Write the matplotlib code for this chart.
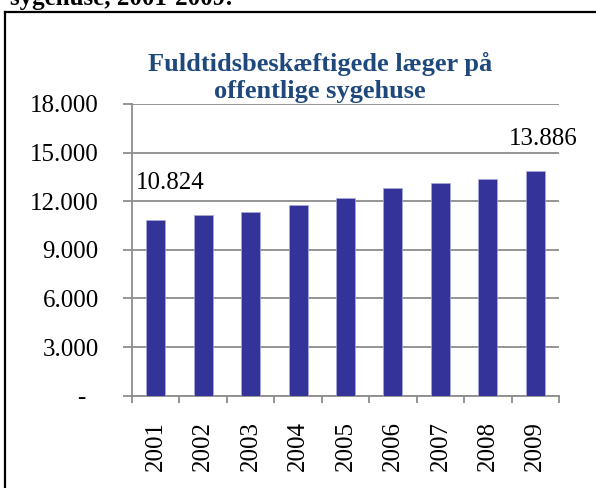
import matplotlib
matplotlib.use("Agg")
import matplotlib.pyplot as plt
from matplotlib.lines import Line2D
import numpy as np

years = ["2001", "2002", "2003", "2004", "2005", "2006", "2007", "2008", "2009"]
values = [10824, 11150, 11320, 11770, 12200, 12790, 13120, 13390, 13886]
yticks = [0, 3000, 6000, 9000, 12000, 15000, 18000]
ytick_labels = ["-  ", "3.000", "6.000", "9.000", "12.000", "15.000", "18.000"]
title = "Fuldtidsbeskæftigede læger på\noffentlige sygehuse"
heading = "sygehuse, 2001-2009:"

serif = ["Liberation Serif", "DejaVu Serif"]
plt.rcParams["font.family"] = serif

W, H = 596, 488
fig = plt.figure(figsize=(W / 100, H / 100), dpi=100)
L, R, T, B = 132.0, 559.0, 104.0, 395.7
ax = fig.add_axes([L / W, 1 - B / H, (R - L) / W, (B - T) / H])

x = np.arange(len(years))
ax.bar(x, values, width=0.4, color="#333399", edgecolor="#aaaadd", linewidth=0.5, zorder=3)

ax.set_xlim(-0.5, len(years) - 0.5)
ax.set_ylim(0, 18000)
ax.set_yticks(yticks)
ax.set_yticklabels(ytick_labels, fontsize=18)
ax.yaxis.grid(True, color="#8c8c8c", linewidth=1.3, zorder=0)
ax.tick_params(axis="y", length=6.5, width=1.3, color="#8c8c8c", pad=17.5)

ax.set_xticks(x)
ax.set_xticklabels(years, rotation=90, fontsize=18)
ax.set_xticks(np.arange(-0.5, len(years)), minor=True)
ax.tick_params(axis="x", which="major", length=0, pad=18.5)
ax.tick_params(axis="x", which="minor", length=5.3, width=1.3, color="#8c8c8c")

for s in ["top", "right"]:
    ax.spines[s].set_visible(False)
for s in ["left", "bottom"]:
    ax.spines[s].set_color("#8c8c8c")
    ax.spines[s].set_linewidth(1.3)

ax.annotate("10.824", (x[0], values[0]), xytext=(15, 37.5), textcoords="offset pixels",
            ha="center", va="center", fontsize=18)
ax.annotate("13.886", (x[-1], values[-1]), xytext=(8, 32), textcoords="offset pixels",
            ha="center", va="center", fontsize=18)

fig.text(320 / W, 1 - 98 / H, title, ha="center", va="baseline", fontsize=19,
         fontweight="bold", color="#1F497D", linespacing=1.2)

fig.text(10 / W, 1 - 4.5 / H, heading, ha="left", va="baseline", fontsize=18,
         fontweight="bold", color="black")

fig.add_artist(Line2D([5 / W, 1], [1 - 12 / H, 1 - 12 / H], color="black", linewidth=1.6,
                      transform=fig.transFigure))
fig.add_artist(Line2D([5 / W, 5 / W], [0, 1 - 12 / H], color="black", linewidth=1.6,
                      transform=fig.transFigure))

fig.savefig("out.png", dpi=100)
